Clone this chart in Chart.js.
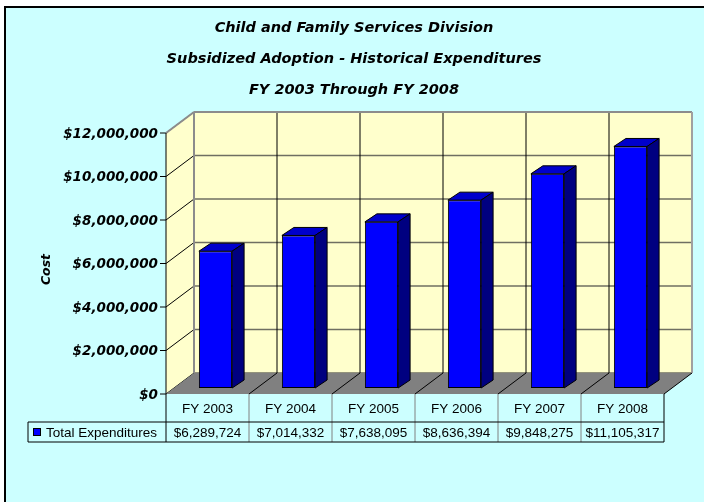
<!DOCTYPE html>
<html>
<head>
<meta charset="utf-8">
<script src="https://cdn.jsdelivr.net/npm/chart.js@4.4.1/dist/chart.umd.min.js"></script>
<style>
  html, body { margin: 0; padding: 0; background: #ffffff; }
  #wrap { position: relative; width: 704px; height: 502px; overflow: hidden; }
  #frame {
    position: absolute; left: 4px; top: 6px; width: 760px; height: 560px;
    background: #ccffff; border-left: 2px solid #000; border-top: 2px solid #000;
  }
  #myChart { position: absolute; left: 0; top: 0; }
</style>
</head>
<body>
<div id="wrap">
  <div id="frame"></div>
  <canvas id="myChart" width="704" height="502"></canvas>
</div>
<script>
const years = ["FY 2003", "FY 2004", "FY 2005", "FY 2006", "FY 2007", "FY 2008"];
const totals = [6289724, 7014332, 7638095, 8636394, 9848275, 11105317];
const seriesName = "Total Expenditures";
const titleLines = [
  "Child and Family Services Division",
  "Subsidized Adoption - Historical Expenditures",
  "FY 2003 Through FY 2008"
];
const yTitle = "Cost";
const yMax = 12000000;
const yStep = 2000000;

// 3d offsets relative to the plane the bars' front faces sit in
const front = { dx: -8, dy: 6 };
const back = { dx: 20, dy: -15 };
const barDepth = { dx: 12, dy: -8 };

const money = (v) => "$" + Number(v).toLocaleString("en-US");

function line(ctx, x1, y1, x2, y2, color, width) {
  ctx.beginPath();
  ctx.moveTo(x1, y1);
  ctx.lineTo(x2, y2);
  ctx.strokeStyle = color;
  ctx.lineWidth = width;
  ctx.stroke();
}

function poly(ctx, pts, fill, stroke, width) {
  ctx.beginPath();
  ctx.moveTo(pts[0][0], pts[0][1]);
  pts.slice(1).forEach((p) => ctx.lineTo(p[0], p[1]));
  ctx.closePath();
  if (fill) { ctx.fillStyle = fill; ctx.fill(); }
  if (stroke) { ctx.strokeStyle = stroke; ctx.lineWidth = width || 1; ctx.stroke(); }
}

const room = {
  id: "room",
  beforeDatasetsDraw(chart) {
    const { ctx, chartArea: a, scales: { x, y } } = chart;
    const step = x.getPixelForValue(1) - x.getPixelForValue(0);
    const y0 = y.getPixelForValue(0);
    const yTop = y.getPixelForValue(yMax);
    const fl = a.left + front.dx, fr = a.right + front.dx;
    const bl = a.left + back.dx, br = a.right + back.dx;

    ctx.save();
    // back wall + side wall
    poly(ctx, [[bl, yTop + back.dy], [br, yTop + back.dy], [br, y0 + back.dy], [bl, y0 + back.dy]], "#ffffcc");
    poly(ctx, [[fl, yTop + front.dy], [bl, yTop + back.dy], [bl, y0 + back.dy], [fl, y0 + front.dy]], "#ffffcc");

    // grid lines
    for (let v = 0; v <= yMax; v += yStep) {
      const py = y.getPixelForValue(v);
      line(ctx, bl, py + back.dy, br, py + back.dy, "#6f6f62", 1.5);
      line(ctx, fl, py + front.dy, bl, py + back.dy, "#000", 1);
      line(ctx, fl - 6, py + front.dy, fl, py + front.dy, "#000", 1);
    }
    for (let i = 1; i < years.length; i++) {
      const px = x.getPixelForValue(i) - step / 2;
      line(ctx, px + back.dx, yTop + back.dy, px + back.dx, y0 + back.dy, "#000", 1);
    }

    // floor
    poly(ctx, [[fl, y0 + front.dy], [fr, y0 + front.dy], [br, y0 + back.dy], [bl, y0 + back.dy]], "#808080");
    for (let i = 1; i < years.length; i++) {
      const px = x.getPixelForValue(i) - step / 2;
      line(ctx, px + front.dx, y0 + front.dy, px + back.dx, y0 + back.dy, "#000", 1);
    }

    // wall edges
    line(ctx, bl, yTop + back.dy, br, yTop + back.dy, "#8c8c8c", 2);
    line(ctx, fl, yTop + front.dy, bl, yTop + back.dy, "#8c8c8c", 2);
    line(ctx, bl, yTop + back.dy, bl, y0 + back.dy, "#8c8c8c", 2);
    line(ctx, br, yTop + back.dy, br, y0 + back.dy, "#a0a0a0", 2);
    line(ctx, fr, y0 + front.dy, br, y0 + back.dy, "#000", 1);
    line(ctx, fl, yTop + front.dy, fl, y0 + front.dy, "#000", 1);
    ctx.restore();
  },

  afterDatasetsDraw(chart) {
    const { ctx } = chart;
    const meta = chart.getDatasetMeta(0);
    ctx.save();
    meta.data.forEach((bar) => {
      const { x: cx, y: top, base, width } = bar.getProps(["x", "y", "base", "width"], true);
      const l = cx - width / 2, r = cx + width / 2;
      poly(ctx, [[l, top], [r, top], [r + barDepth.dx, top + barDepth.dy], [l + barDepth.dx, top + barDepth.dy]], "#0000cc", "#000", 1);
      poly(ctx, [[r, top], [r + barDepth.dx, top + barDepth.dy], [r + barDepth.dx, base + barDepth.dy], [r, base]], "#000080", "#000", 1);
    });
    ctx.restore();
  },

  afterDraw(chart) {
    const { ctx, chartArea: a, scales: { x, y } } = chart;
    const step = x.getPixelForValue(1) - x.getPixelForValue(0);
    const top = y.getPixelForValue(0) + front.dy;
    const rowA = top + 28, rowB = rowA + 20;
    const left = x.getPixelForValue(0) - step / 2 + front.dx;
    const right = x.getPixelForValue(years.length - 1) + step / 2 + front.dx;
    const keyLeft = 28;

    ctx.save();
    // axis title
    ctx.save();
    ctx.translate(47, (a.top + a.bottom) / 2 + 12);
    ctx.rotate(-Math.PI / 2);
    ctx.font = "italic bold 12.5px 'DejaVu Sans', Verdana, sans-serif";
    ctx.textAlign = "center";
    ctx.textBaseline = "middle";
    ctx.fillStyle = "#000";
    ctx.fillText(yTitle, 0, 0);
    ctx.restore();

    // data table
    ctx.font = "13.5px 'Liberation Sans', Arial, sans-serif";
    ctx.textAlign = "center";
    ctx.textBaseline = "middle";
    ctx.fillStyle = "#000";
    years.forEach((yr, i) => {
      const cx = x.getPixelForValue(i) + front.dx;
      ctx.fillText(yr, cx, (top + rowA) / 2 + 1);
      ctx.fillText(money(totals[i]), cx, (rowA + rowB) / 2 + 1);
      if (i > 0) line(ctx, cx - step / 2, top, cx - step / 2, rowB, "#808080", 1);
    });

    line(ctx, left, top, left, rowB, "#000", 1);
    line(ctx, right, top, right, rowB, "#000", 1);
    line(ctx, keyLeft, rowA, right, rowA, "#000", 1);
    line(ctx, keyLeft, rowB, right, rowB, "#000", 1);
    line(ctx, keyLeft, rowA, keyLeft, rowB, "#000", 1);

    // legend key
    ctx.fillStyle = "#0000ff";
    ctx.fillRect(33.5, rowA + 6.5, 7, 7);
    ctx.strokeStyle = "#000";
    ctx.lineWidth = 1;
    ctx.strokeRect(33.5, rowA + 6.5, 7, 7);
    ctx.fillStyle = "#000";
    ctx.textAlign = "left";
    ctx.fillText(seriesName, 46, (rowA + rowB) / 2 + 1);
    ctx.restore();
  }
};

const ctx = document.getElementById("myChart");

new Chart(ctx, {
  type: "bar",
  data: {
    labels: years,
    datasets: [{
      label: seriesName,
      data: totals,
      backgroundColor: "#0000ff",
      borderColor: "#000",
      borderWidth: 1,
      borderSkipped: false,
      categoryPercentage: 1,
      barPercentage: 0.4
    }]
  },
  options: {
    responsive: false,
    animation: false,
    devicePixelRatio: 1,
    layout: { padding: { left: 36, right: 32, top: 0, bottom: 114 } },
    plugins: {
      legend: { display: false },
      tooltip: { enabled: false },
      title: {
        display: true,
        text: titleLines,
        color: "#000",
        font: { family: "'DejaVu Sans', Verdana, sans-serif", size: 14.5, style: "italic", weight: "bold", lineHeight: "31px" },
        padding: { top: 13, bottom: 21 }
      }
    },
    scales: {
      x: { display: false, offset: true },
      y: {
        min: 0,
        max: yMax,
        border: { display: false },
        grid: { display: false, drawTicks: false },
        afterFit: (scale) => { scale.width = 138; },
        ticks: {
          stepSize: yStep,
          padding: 16,
          labelOffset: 7,
          color: "#000",
          font: { family: "'DejaVu Sans', Verdana, sans-serif", size: 13.5, style: "italic", weight: "bold" },
          callback: (v) => money(v)
        }
      }
    }
  },
  plugins: [room]
});
</script>
</body>
</html>
